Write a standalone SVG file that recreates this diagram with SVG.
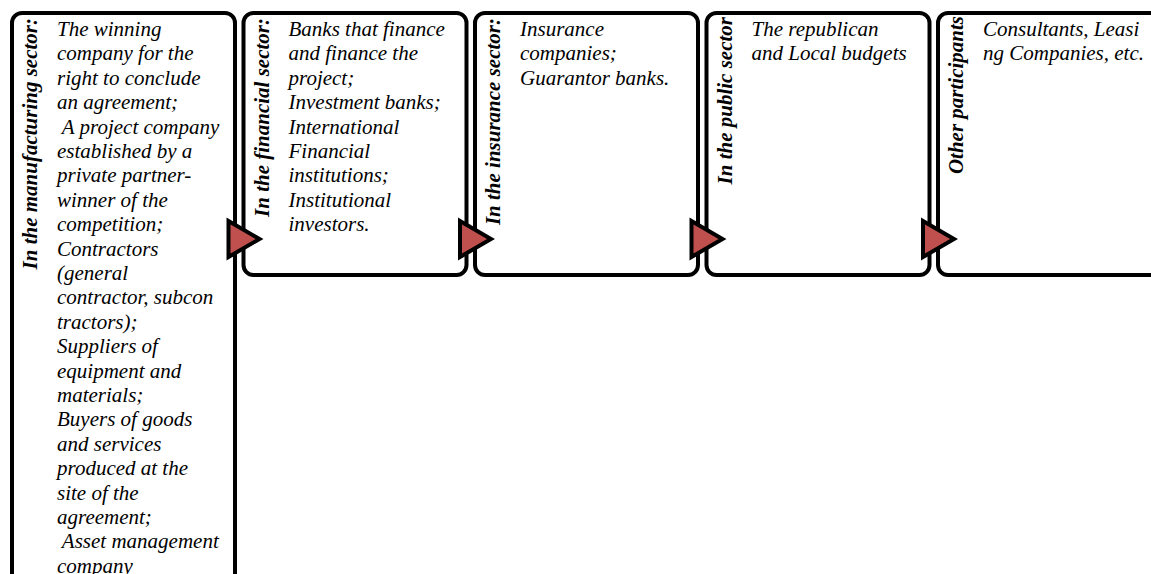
<svg xmlns="http://www.w3.org/2000/svg" width="1151" height="574" viewBox="0 0 1151 574">
<style>
.box{fill:#ffffff;stroke:#000000;stroke-width:4}
.lbl{font-family:"Liberation Serif","Times New Roman",serif;font-size:21px;font-weight:bold;font-style:italic;fill:#000}
.body{font-family:"Liberation Serif","Times New Roman",serif;font-size:21px;font-style:italic;fill:#000;white-space:pre}
.arr{fill:#C0504D;stroke:#000;stroke-width:4;stroke-linejoin:miter}
</style>
<rect width="1151" height="574" fill="#ffffff"/>
<g id="node-manufacturing">
<rect class="box" x="12" y="13" width="223" height="600" rx="10"/>
<text class="lbl" transform="translate(37,18) rotate(-90)" text-anchor="end">In the manufacturing sector:</text>
<text class="body" xml:space="preserve" x="57" y="36"><tspan x="57" y="36">The winning</tspan><tspan x="57" y="60.4">company for the</tspan><tspan x="57" y="84.8">right to conclude</tspan><tspan x="57" y="109.2">an agreement;</tspan><tspan x="57" y="133.6"> A project company</tspan><tspan x="57" y="158">established by a</tspan><tspan x="57" y="182.4">private partner-</tspan><tspan x="57" y="206.8">winner of the</tspan><tspan x="57" y="231.2">competition;</tspan><tspan x="57" y="255.6">Contractors</tspan><tspan x="57" y="280">(general</tspan><tspan x="57" y="304.4">contractor, subcon</tspan><tspan x="57" y="328.8">tractors);</tspan><tspan x="57" y="353.2">Suppliers of</tspan><tspan x="57" y="377.6">equipment and</tspan><tspan x="57" y="402">materials;</tspan><tspan x="57" y="426.4">Buyers of goods</tspan><tspan x="57" y="450.8">and services</tspan><tspan x="57" y="475.2">produced at the</tspan><tspan x="57" y="499.6">site of the</tspan><tspan x="57" y="524">agreement;</tspan><tspan x="57" y="548.4"> Asset management</tspan><tspan x="57" y="572.8">company</tspan></text>
</g>
<g id="node-financial">
<rect class="box" x="243.5" y="13" width="223" height="262" rx="10"/>
<text class="lbl" transform="translate(268.5,18) rotate(-90)" text-anchor="end">In the financial sector:</text>
<text class="body" x="288.5" y="36"><tspan x="288.5" y="36">Banks that finance</tspan><tspan x="288.5" y="60.4">and finance the</tspan><tspan x="288.5" y="84.8">project;</tspan><tspan x="288.5" y="109.2">Investment banks;</tspan><tspan x="288.5" y="133.6">International</tspan><tspan x="288.5" y="158">Financial</tspan><tspan x="288.5" y="182.4">institutions;</tspan><tspan x="288.5" y="206.8">Institutional</tspan><tspan x="288.5" y="231.2">investors.</tspan></text>
</g>
<g id="node-insurance">
<rect class="box" x="475" y="13" width="223" height="262" rx="10"/>
<text class="lbl" transform="translate(500,18) rotate(-90)" text-anchor="end">In the insurance sector:</text>
<text class="body" x="520" y="36"><tspan x="520" y="36">Insurance</tspan><tspan x="520" y="60.4">companies;</tspan><tspan x="520" y="84.8">Guarantor banks.</tspan></text>
</g>
<g id="node-public">
<rect class="box" x="706.5" y="13" width="223" height="262" rx="10"/>
<text class="lbl" transform="translate(731.5,17) rotate(-90)" text-anchor="end">In the public sector</text>
<text class="body" x="751.5" y="36"><tspan x="751.5" y="36">The republican</tspan><tspan x="751.5" y="60.4">and Local budgets</tspan></text>
</g>
<g id="node-other">
<rect class="box" x="938" y="13" width="223" height="262" rx="10"/>
<text class="lbl" transform="translate(963,16) rotate(-90)" text-anchor="end">Other participants</text>
<text class="body" x="983" y="36"><tspan x="983" y="36">Consultants, Leasi</tspan><tspan x="983" y="60.4">ng Companies, etc.</tspan></text>
</g>
<g id="connectors">
<polygon class="arr" points="228.5,221 259.5,239 228.5,257"/>
<polygon class="arr" points="460,221 491,239 460,257"/>
<polygon class="arr" points="691.5,221 722.5,239 691.5,257"/>
<polygon class="arr" points="923,221 954,239 923,257"/>
</g>
</svg>
